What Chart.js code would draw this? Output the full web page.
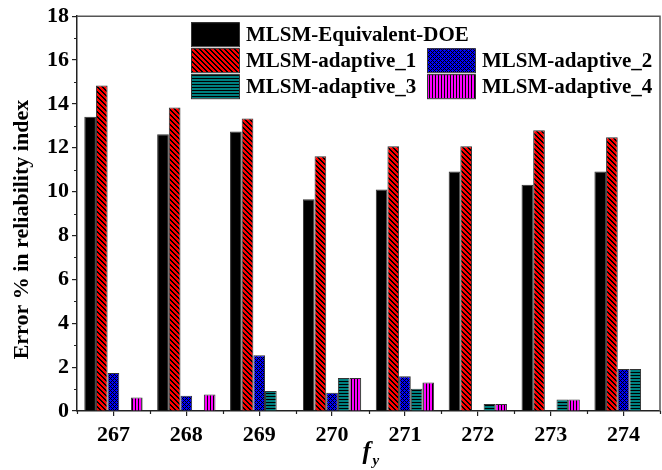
<!DOCTYPE html>
<html>
<head>
<meta charset="utf-8">
<script src="https://cdn.jsdelivr.net/npm/chart.js@4"></script>
<style>
  html, body { margin: 0; padding: 0; background: #fff; }
  #wrap { width: 662px; height: 470px; }
</style>
</head>
<body>
<div id="wrap"><canvas id="errChart" width="662" height="470"></canvas></div>
<script>
const categories = ['267', '268', '269', '270', '271', '272', '273', '274'];
const seriesNames = ['MLSM-Equivalent-DOE', 'MLSM-adaptive_1', 'MLSM-adaptive_2', 'MLSM-adaptive_3', 'MLSM-adaptive_4'];
const equivalentDoe = [13.42, 12.62, 12.74, 9.65, 10.1, 10.92, 10.32, 10.92];
const adaptive1 = [14.84, 13.84, 13.34, 11.62, 12.07, 12.07, 12.8, 12.48];
const adaptive2 = [1.73, 0.7, 2.54, 0.83, 1.58, 0, 0, 1.91];
const adaptive3 = [0, 0, 0.91, 1.5, 1.02, 0.32, 0.52, 1.92];
const adaptive4 = [0.62, 0.75, 0, 1.5, 1.3, 0.32, 0.52, 0];
const yTitle = 'Error % in reliability index';

const serif = "'Liberation Serif', 'Times New Roman', serif";

// hatch fills, black strokes over a flat colour
function hatch(bg, kind) {
  const c = document.createElement('canvas');
  const n = kind === 'cross' ? 4 : (kind === 'diag' ? 5 : 3);
  c.width = n; c.height = n;
  const g = c.getContext('2d');
  g.fillStyle = bg;
  g.fillRect(0, 0, n, n);
  g.fillStyle = '#000';
  if (kind === 'diag') {
    for (let i = 0; i < n; i++) { g.fillRect(i, i, 1, 1); g.fillRect((i + 1) % n, i, 1, 1); }
  } else if (kind === 'cross') {
    g.fillRect(0, 0, 1, 1); g.fillRect(2, 2, 1, 1);
    g.fillRect(1, 1, 1, 1); g.fillRect(3, 3, 1, 1);
    g.fillRect(3, 1, 1, 1); g.fillRect(1, 3, 1, 1);
  } else if (kind === 'horiz') {
    g.fillRect(0, 0, n, 1);
  } else if (kind === 'vert') {
    g.fillRect(0, 0, 1, n);
  }
  return document.getElementById('errChart').getContext('2d').createPattern(c, 'repeat');
}

const fills = [
  '#000000',
  hatch('#ff0000', 'diag'),
  hatch('#0000ff', 'cross'),
  hatch('#008080', 'horiz'),
  hatch('#ff00ff', 'vert')
];
const seriesData = [equivalentDoe, adaptive1, adaptive2, adaptive3, adaptive4];

// minor ticks, frame, legend block and both axis titles
const decorations = {
  id: 'decorations',
  afterDraw(chart) {
    const g = chart.ctx;
    const a = chart.chartArea;
    const x = chart.scales.x, y = chart.scales.y;
    g.save();
    g.strokeStyle = '#555';
    g.lineWidth = 1.5;
    g.beginPath();
    g.moveTo(a.left, a.top); g.lineTo(a.right, a.top); g.lineTo(a.right, a.bottom);
    g.stroke();

    g.strokeStyle = '#222';
    g.lineWidth = 1.2;
    g.beginPath();
    for (let v = 1; v < 18; v += 2) {
      const py = Math.round(y.getPixelForValue(v)) + 0.5;
      g.moveTo(a.left - 3, py); g.lineTo(a.left, py);
    }
    for (let i = 0; i <= categories.length; i++) {
      const px = Math.round(x.getPixelForValue(i - 0.5)) + 0.5;
      g.moveTo(px, a.bottom); g.lineTo(px, a.bottom + 3);
    }
    g.stroke();

    // legend
    const rows = [[0], [1, 2], [3, 4]];
    const colX = [a.left + 114, a.left + 350];
    g.font = 'bold 21px ' + serif;
    g.textBaseline = 'middle';
    g.fillStyle = '#000';
    rows.forEach((row, r) => {
      row.forEach((idx, c) => {
        const sx = colX[c], sy = a.top + 6 + r * 26;
        g.fillStyle = fills[idx];
        g.fillRect(sx, sy, 48, 24);
        g.strokeStyle = '#333';
        g.lineWidth = 1;
        g.strokeRect(sx + 0.5, sy + 0.5, 48, 24);
        g.fillStyle = '#000';
        g.fillText(seriesNames[idx], sx + 55, sy + 13);
      });
    });

    // y axis title, sitting a little below the plot's middle
    g.save();
    g.translate(22, (a.top + a.bottom) / 2 + 16);
    g.rotate(-Math.PI / 2);
    g.font = 'bold 22px ' + serif;
    g.textAlign = 'center';
    g.textBaseline = 'middle';
    g.fillText(yTitle, 0, 0);
    g.restore();

    // x axis title: f with subscript y
    g.font = 'italic bold 25px ' + serif;
    g.textBaseline = 'alphabetic';
    g.textAlign = 'left';
    const cx = (a.left + a.right) / 2;
    g.fillText('f', cx - 6, 459);
    g.font = 'italic bold 15px ' + serif;
    g.fillText('y', cx + 4, 465);
    g.restore();
  }
};

new Chart(document.getElementById('errChart'), {
  type: 'bar',
  data: {
    labels: categories,
    datasets: seriesNames.map((name, i) => ({
      label: name,
      data: seriesData[i],
      backgroundColor: fills[i],
      borderColor: '#333',
      borderWidth: 1,
      borderSkipped: 'bottom',
      categoryPercentage: 0.8,
      barPercentage: 1.0
    }))
  },
  options: {
    responsive: false,
    animation: false,
    layout: { padding: { top: 13, right: 2, left: 8, bottom: 0 } },
    plugins: {
      legend: { display: false },
      tooltip: { enabled: false }
    },
    scales: {
      x: {
        offset: true,
        grid: { drawOnChartArea: false, offset: false, tickLength: 5, color: '#222', lineWidth: 1.2 },
        border: { color: '#222', width: 1.5 },
        ticks: { color: '#000', font: { family: serif, size: 22, weight: 'bold' }, padding: 6, maxRotation: 0 },
        afterFit(s) { s.height = 59; }
      },
      y: {
        min: 0,
        max: 18,
        grid: { drawOnChartArea: false, tickLength: 5, color: '#222', lineWidth: 1.2 },
        border: { color: '#222', width: 1.5 },
        ticks: { stepSize: 2, color: '#000', font: { family: serif, size: 22, weight: 'bold' }, padding: 3 },
        afterFit(s) { s.width = 69; }
      }
    }
  },
  plugins: [decorations]
});
</script>
</body>
</html>
